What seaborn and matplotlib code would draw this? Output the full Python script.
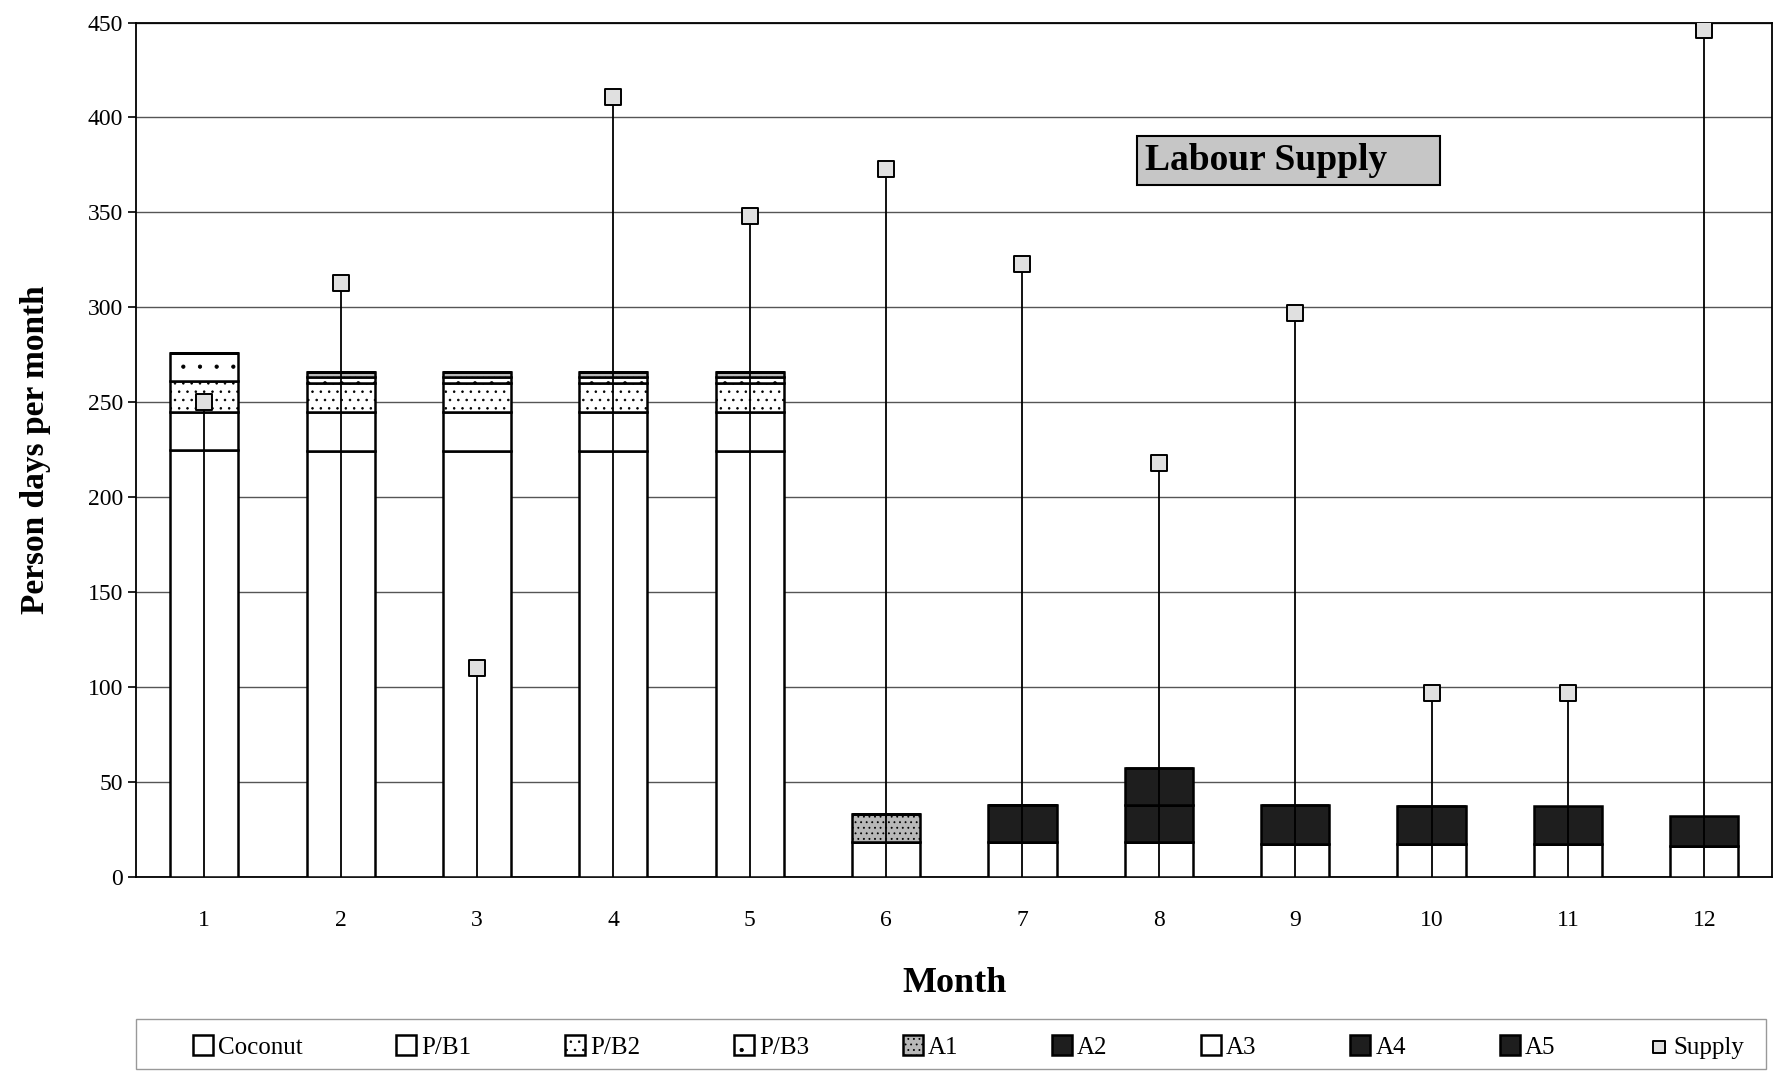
import matplotlib
matplotlib.use("Agg")
import matplotlib.pyplot as plt
from matplotlib.patches import Rectangle
import seaborn as sns

# data (person days per month)
months = list(range(1, 13))
coconut = [225, 224, 224, 224, 224, 18, 18, 18, 17, 17, 17, 16]
pb1 = [20, 21, 21, 21, 21, 0, 0, 0, 0, 0, 0, 0]
pb2 = [16, 15, 15, 15, 15, 0, 0, 0, 0, 0, 0, 0]
pb3 = [15, 3, 3, 3, 3, 0, 0, 0, 0, 0, 0, 0]
a1 = [0, 3, 3, 3, 3, 15, 0, 0, 0, 0, 0, 0]
a2 = [0, 0, 0, 0, 0, 0, 20, 20, 0, 0, 0, 0]
a3 = [0, 0, 0, 0, 0, 0, 0, 0, 0, 0, 0, 0]
a4 = [0, 0, 0, 0, 0, 0, 0, 19, 21, 20, 0, 0]
a5 = [0, 0, 0, 0, 0, 0, 0, 0, 0, 0, 20, 16]
supply = [250, 313, 110, 411, 348, 373, 323, 218, 297, 97, 97, 446]

series = [
    ("Coconut", coconut, "white", None),
    ("P/B1", pb1, "white", None),
    ("P/B2", pb2, "white", ".."),
    ("P/B3", pb3, "white", "."),
    ("A1", a1, "#b8b8b8", "..."),
    ("A2", a2, "#1e1e1e", None),
    ("A3", a3, "white", None),
    ("A4", a4, "#1e1e1e", None),
    ("A5", a5, "#1e1e1e", None),
]

sns.set_style("white")
plt.rcParams["font.family"] = ["Liberation Serif", "DejaVu Serif"]
plt.rcParams["hatch.linewidth"] = 0.6
for k in ["text.color", "axes.labelcolor", "xtick.color", "ytick.color"]:
    plt.rcParams[k] = "black"

fig = plt.figure(figsize=(17.76, 10.73), dpi=100)
ax = fig.add_axes([0.0766, 0.183, 0.9214, 0.796])

bottom = [0] * 12
for name, vals, col, hatch in series:
    sns.barplot(x=months, y=vals, native_scale=True, width=0.5, errorbar=None,
                bottom=bottom, color=col, edgecolor="black", linewidth=1.8,
                hatch=hatch, label=name, ax=ax, zorder=3)
    bottom = [b + v for b, v in zip(bottom, vals)]

ax.vlines(months, 0, supply, color="black", linewidth=1.3, zorder=4)
sns.scatterplot(x=months, y=supply, marker="s", s=130, color="#e0e0e0",
                edgecolor="black", linewidth=1.4, label="Supply", ax=ax, zorder=5)

ax.set_xlim(0.5, 12.5)
ax.set_ylim(0, 450)
ax.set_yticks(range(0, 451, 50))
ax.set_xticks(months)
ax.set_xticks([m + 0.5 for m in months[:-1]], minor=True)
ax.tick_params(axis="x", which="major", length=0, pad=24, labelsize=17)
ax.tick_params(axis="x", which="minor", length=8, width=1.2, direction="inout")
ax.tick_params(axis="y", length=6, width=1.2, labelsize=17, left=True)
ax.grid(True, axis="y", color="#555555", linewidth=1.0)
ax.set_axisbelow(True)
for s in ax.spines.values():
    s.set_color("black")
    s.set_linewidth(1.3)

ax.set_xlabel("Month", fontsize=26, fontweight="bold", labelpad=26)
ax.set_ylabel("Person days per month", fontsize=24, fontweight="bold", labelpad=26)

# "Labour Supply" label box
ax.add_patch(Rectangle((7.84, 364.5), 2.22, 25.8, facecolor="#c6c6c6",
                       edgecolor="black", linewidth=1.5, zorder=6))
ax.text(7.9, 377.5, "Labour Supply", ha="left", va="center", fontsize=27,
        fontweight="bold", zorder=7)

handles, labels = ax.get_legend_handles_labels()
ax.get_legend().remove()
order = labels[1:] + labels[:1] if labels[0] == "Supply" else labels
hmap = dict(zip(labels, handles))
# legend frame drawn separately so the entries can sit inset like the original
fig.patches.append(Rectangle((0.0766, 0.004), 0.918, 0.046, transform=fig.transFigure,
                             facecolor="white", edgecolor="#999999", linewidth=1.0))
fig.legend([hmap[l] for l in order], order, loc="lower left", ncol=10, mode="expand",
           bbox_to_anchor=(0.103, 0.004, 0.885, 0.046), fontsize=18,
           handlelength=0.8, handleheight=0.8, handletextpad=0.2,
           frameon=False, borderaxespad=0, markerscale=0.8)

fig.savefig("out.png", dpi=100)
